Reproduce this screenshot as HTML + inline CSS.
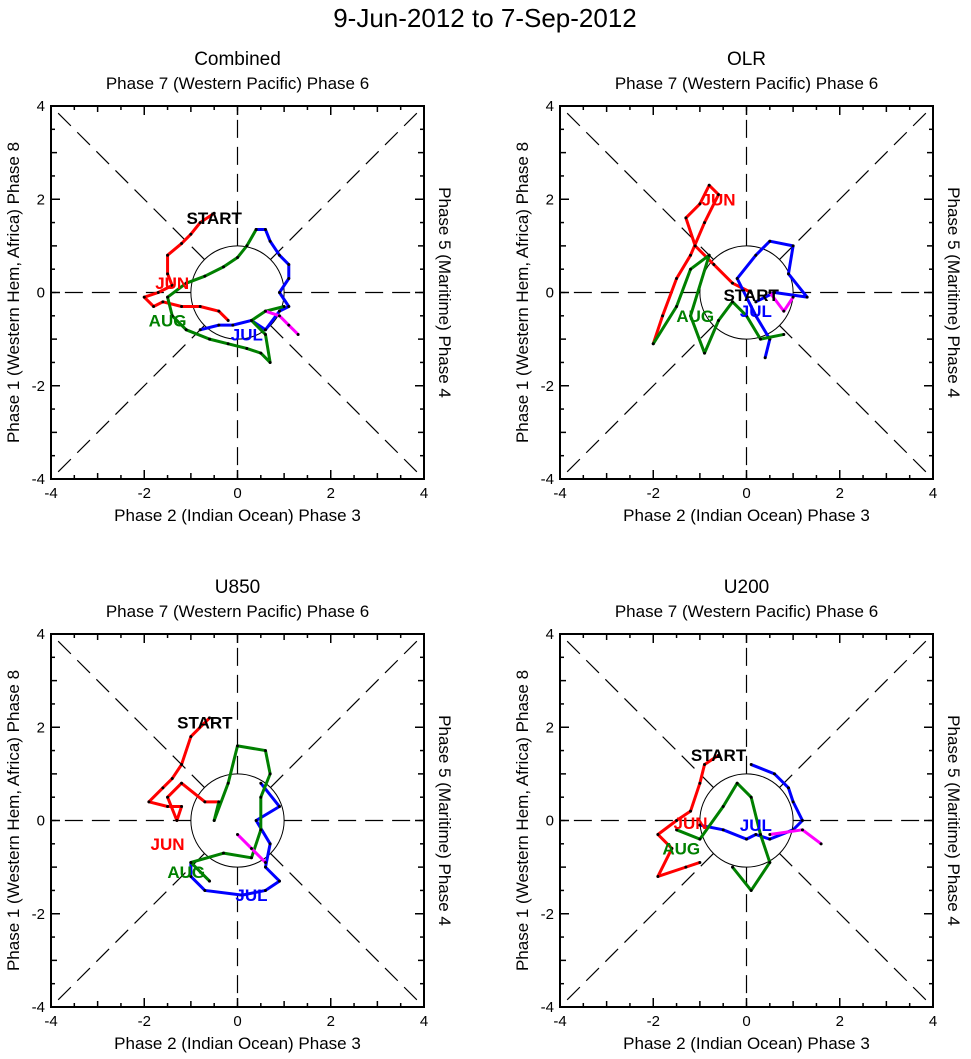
<!DOCTYPE html>
<html><head><meta charset="utf-8">
<style>
body{margin:0;background:#fff;}
svg{display:block;font-family:"Liberation Sans",sans-serif;}
</style></head>
<body>
<svg id="chart" width="971" height="1059">
<text x="485" y="27" font-size="26" text-anchor="middle">9-Jun-2012 to 7-Sep-2012</text>
</svg>
<script>
const panelNames = ["Combined","OLR","U850","U200"];
const tickValues = [-4,-2,0,2,4];
// trajectories [x,y] in RMM units per month segment
const combJun = [[-0.5,1.7],[-0.8,1.5],[-1.0,1.25],[-1.2,1.05],[-1.5,0.8],[-1.5,0.4],[-1.4,0.15],[-1.7,0],[-2.0,-0.1],[-1.8,-0.3],[-1.6,-0.2],[-1.2,-0.3],[-0.8,-0.3],[-0.4,-0.4],[-0.2,-0.6]];
const combJul = [[-0.8,-0.8],[-0.4,-0.7],[-0.1,-0.7],[0.3,-0.6],[0.6,-0.8],[0.9,-0.4],[1.1,-0.3],[0.9,0],[1.1,0.3],[1.1,0.6],[0.9,0.8],[0.7,1.1],[0.6,1.35],[0.4,1.35]];
const combAug = [[0.4,1.35],[0.2,1.0],[0.0,0.75],[-0.3,0.55],[-0.7,0.35],[-1.1,0.2],[-1.5,-0.1],[-1.4,-0.5],[-1.1,-0.8],[-0.6,-1.0],[-0.2,-1.1],[0.2,-1.2],[0.5,-1.3],[0.7,-1.5],[0.6,-0.9],[0.3,-0.6],[0.6,-0.4],[1.0,-0.3]];
const combSep = [[0.6,-0.4],[0.9,-0.5],[1.1,-0.7],[1.3,-0.9]];
const olrJun = [[0.1,0],[-0.3,0.2],[-0.7,0.6],[-1.1,1.0],[-1.3,1.6],[-1.0,1.9],[-0.8,2.3],[-0.6,2.1],[-0.9,1.5],[-1.2,0.8],[-1.5,0.3],[-1.8,-0.5],[-2.0,-1.1]];
const olrJul = [[0.2,-0.2],[0.6,0],[1.3,-0.1],[0.9,0.4],[1.0,1.0],[0.5,1.1],[0.2,0.8],[-0.2,0.3],[0.2,-0.5],[0.5,-1.0],[0.4,-1.4]];
const olrAug = [[-2.0,-1.1],[-1.5,-0.3],[-1.2,0.5],[-0.8,0.8],[-1.2,-0.5],[-0.9,-1.3],[-0.6,-0.6],[-0.3,-0.2],[0,-0.5],[0.3,-1.0],[0.8,-0.9]];
const olrSep = [[0.5,0],[0.8,-0.4],[1.0,-0.1]];
const u850Jun = [[-0.6,2.2],[-1.0,1.8],[-1.2,1.2],[-1.4,0.9],[-1.6,0.7],[-1.9,0.4],[-1.5,0.3],[-1.2,0.3],[-1.3,0],[-1.5,0.5],[-1.2,0.8],[-0.7,0.4],[-0.4,0.4]];
const u850Jul = [[-1.0,-0.9],[-1.0,-1.2],[-0.7,-1.5],[0.1,-1.6],[0.6,-1.5],[0.9,-1.3],[0.6,-1.0],[0.7,-0.5],[0.4,0],[0.9,0.3],[0.5,0.8]];
const u850Aug = [[-0.4,0.4],[-0.5,0],[-0.2,0.8],[0,1.6],[0.6,1.5],[0.7,1.0],[0.5,0.5],[0.5,-0.2],[0.3,-0.8],[-0.3,-0.7],[-1.0,-0.9],[-0.6,-1.3]];
const u850Sep = [[0,-0.3],[0.3,-0.6],[0.6,-0.9]];
const u200Jun = [[-0.6,1.4],[-0.9,1.2],[-1.0,0.8],[-1.2,0.2],[-1.5,0],[-1.9,-0.3],[-1.6,-0.6],[-1.9,-1.2],[-1.3,-1.0],[-1.0,-0.9]];
const u200Jul = [[0.1,1.2],[0.6,1.0],[0.9,0.7],[1.0,0.4],[1.2,0],[1.0,-0.2],[0.5,-0.4],[0.2,-0.3],[0,-0.4],[-0.5,-0.2],[-1.0,-0.1]];
const u200Aug = [[-1.5,-0.2],[-1.0,-0.4],[-0.5,0.3],[-0.2,0.8],[0.1,0.5],[0.3,-0.3],[0.5,-0.9],[0.1,-1.5],[-0.3,-1.0]];
const u200Sep = [[0.5,-0.3],[1.2,-0.2],[1.6,-0.5]];
const series = [[combJun,combJul,combAug,combSep],[olrJun,olrJul,olrAug,olrSep],[u850Jun,u850Jul,u850Aug,u850Sep],[u200Jun,u200Jul,u200Aug,u200Sep]];
const monthLabels = [[[-0.5,1.6],[-1.4,0.2],[0.2,-0.9],[-1.5,-0.6]],[[0.1,-0.05],[-0.6,2.0],[0.2,-0.4],[-1.1,-0.5]],[[-0.7,2.1],[-1.5,-0.5],[0.3,-1.6],[-1.1,-1.1]],[[-0.6,1.4],[-1.2,-0.05],[0.2,-0.1],[-1.4,-0.6]]];

const NS="http://www.w3.org/2000/svg";
const svg=document.getElementById('chart');
function mk(t,a,p){const e=document.createElementNS(NS,t);for(const k in a)e.setAttribute(k,a[k]);(p||svg).appendChild(e);return e;}
const origins=[[51,106],[560,106],[51,634],[560,634]];
const S=373;
const colors=["#ff0000","#0000ff","#008000","#ff00ff"];
origins.forEach((o,i)=>{
  const g=mk('g',{});
  
  
  const X=v=>o[0]+(v+4)/8*S, Y=v=>o[1]+(4-v)/8*S;
  const dl={stroke:'#000','stroke-width':1.2,'stroke-dasharray':'18,9',fill:'none'};
  const r2=Math.SQRT1_2;
  [[-r2,-r2,-4,-4],[r2,r2,4,4],[-r2,r2,-4,4],[r2,-r2,4,-4],[0,1,0,4],[0,-1,0,-4],[1,0,4,0],[-1,0,-4,0]].forEach(d=>{
    const l=mk('line',Object.assign({x1:X(d[0]),y1:Y(d[1]),x2:X(d[2]),y2:Y(d[3])},dl),g);
    
    
  });
  const c=mk('circle',{cx:X(0),cy:Y(0),r:S/8,fill:'none',stroke:'#000','stroke-width':1},g);
  
  
  series[i].forEach((pts,k)=>{
    const pl=mk('polyline',{points:pts.map(p=>X(p[0])+','+Y(p[1])).join(' '),fill:'none',stroke:colors[k],'stroke-width':3,'stroke-linejoin':'round'},g);
    
    
    pts.forEach(p=>{mk('circle',{cx:X(p[0]),cy:Y(p[1]),r:1.5,fill:'#000'},g);});
  });
  const ml=monthLabels[i];
  [['START','#000'],['JUN','#ff0000'],['JUL','#0000ff'],['AUG','#008000']].forEach((m,k)=>{
    const t=mk('text',{x:X(ml[k][0]),y:Y(ml[k][1])+6,'font-size':17,'font-weight':'bold',fill:m[1],'text-anchor':'middle'},g);
    t.textContent=m[0];
    
    
  });
  const box=mk('rect',{x:o[0],y:o[1],width:S,height:S,fill:'none',stroke:'#000','stroke-width':2},g);
  
  
  for(let v=-4;v<=4;v+=0.5){
    const len=(v%2===0)?9:(v%1===0?6:4);
    mk('line',{x1:X(v),y1:o[1]+S,x2:X(v),y2:o[1]+S-len,stroke:'#000','stroke-width':1.5},g);
    mk('line',{x1:X(v),y1:o[1],x2:X(v),y2:o[1]+len,stroke:'#000','stroke-width':1.5},g);
    mk('line',{x1:o[0],y1:Y(v),x2:o[0]+len,y2:Y(v),stroke:'#000','stroke-width':1.5},g);
    mk('line',{x1:o[0]+S,y1:Y(v),x2:o[0]+S-len,y2:Y(v),stroke:'#000','stroke-width':1.5},g);
  }
  tickValues.forEach(v=>{
    const tx=mk('text',{x:X(v),y:o[1]+S+19,'font-size':15,'text-anchor':'middle'},g);
    tx.textContent=v;
    
    
    const ty=mk('text',{x:o[0]-6,y:Y(v)+5,'font-size':15,'text-anchor':'end'},g);
    ty.textContent=v;
    
    
  });
  const cx=o[0]+S/2, cy=o[1]+S/2;
  const tt=mk('text',{x:cx,y:o[1]-41,'font-size':19,'text-anchor':'middle'},g);
  tt.textContent=panelNames[i];
  
  
  const tp=mk('text',{x:cx,y:o[1]-17,'font-size':17,'text-anchor':'middle'},g);
  tp.textContent='Phase 7 (Western Pacific) Phase 6';
  
  
  const bp=mk('text',{x:cx,y:o[1]+S+42,'font-size':17,'text-anchor':'middle'},g);
  bp.textContent='Phase 2 (Indian Ocean) Phase 3';
  
  
  const lp=mk('text',{x:0,y:0,'font-size':17,'text-anchor':'middle',transform:`translate(${o[0]-32},${cy}) rotate(-90)`},g);
  lp.textContent='Phase 1 (Western Hem, Africa) Phase 8';
  
  
  const rp=mk('text',{x:0,y:0,'font-size':17,'text-anchor':'middle',transform:`translate(${o[0]+S+15},${cy}) rotate(90)`},g);
  rp.textContent='Phase 5 (Maritime) Phase 4';
  
  
});
</script>
</body></html>
